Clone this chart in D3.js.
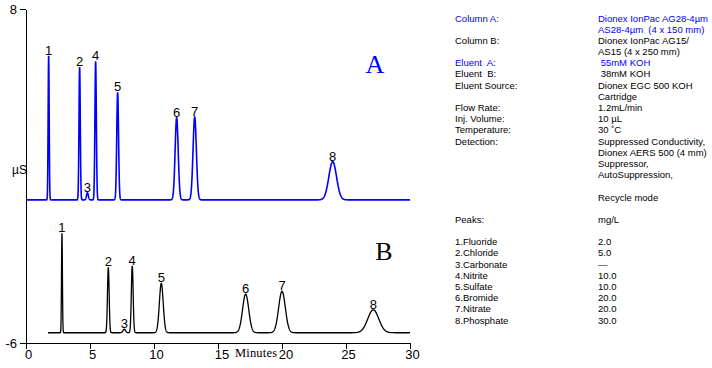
<!doctype html>
<html>
<head>
<meta charset="utf-8">
<script src="https://d3js.org/d3.v7.min.js"></script>
<style>
  body { margin: 0; background: #fff; }
  .axis path, .axis line { stroke: #000; shape-rendering: crispEdges; }
  .axis text { font-family: "Liberation Sans", Arial, sans-serif; font-size: 13px; fill: #000; }
</style>
</head>
<body>
<div id="chart"></div>
<script>
// peak tables: retention time (min), height (uS), width sigma (min)
var peakIds = ["1", "2", "3", "4", "5", "6", "7", "8"];

var timesA = [1.77, 4.19, 4.80, 5.44, 7.16, 11.77, 13.18, 23.96];
var heightsA = [6.04, 5.57, 0.30, 5.81, 4.51, 3.44, 3.47, 1.60];
var sigmaA = [0.04, 0.05, 0.07, 0.055, 0.07, 0.12, 0.13, 0.30];
var baselineA = 0.0;
var startA = 0;

var timesB = [2.81, 6.43, 7.68, 8.30, 10.57, 17.16, 20.00, 27.13];
var heightsB = [4.17, 2.74, 0.15, 2.80, 2.07, 1.62, 1.74, 0.96];
var sigmaB = [0.035, 0.065, 0.10, 0.07, 0.15, 0.24, 0.26, 0.43];
var baselineB = -5.57;
var startB = 1.72;

var xTicks = [0, 5, 10, 15, 20, 25, 30];
var yTicks = [8, -6];

// side panel lines: [label, value, highlighted]
var infoLines = [
  ["Column A:", "Dionex IonPac AG28-4\u00b5m", true],
  ["", "AS28-4\u00b5m  (4 x 150 mm)", true],
  ["Column B:", "Dionex IonPac AG15/", false],
  ["", "AS15 (4 x 250 mm)", false],
  ["Eluent  A:", " 55mM KOH", true],
  ["Eluent  B:", " 38mM KOH", false],
  ["Eluent Source:", "Dionex EGC 500 KOH", false],
  ["", "Cartridge", false],
  ["Flow Rate:", "1.2mL/min", false],
  ["Inj. Volume:", "10 \u00b5L", false],
  ["Temperature:", "30 \u02daC", false],
  ["Detection:", "Suppressed Conductivity,", false],
  ["", "Dionex AERS 500 (4 mm)", false],
  ["", "Suppressor,", false],
  ["", "AutoSuppression,", false],
  ["", "", false],
  ["", "Recycle mode", false],
  ["", "", false],
  ["Peaks:", "mg/L", false],
  ["", "", false],
  ["1.Fluoride", "2.0", false],
  ["2.Chloride", "5.0", false],
  ["3.Carbonate", "\u2014", false],
  ["4.Nitrite", "10.0", false],
  ["5.Sulfate", "10.0", false],
  ["6.Bromide", "20.0", false],
  ["7.Nitrate", "20.0", false],
  ["8.Phosphate", "30.0", false]
];

var width = 712, height = 368;
var blue = "#0000ff";

var svg = d3.select("#chart").append("svg")
  .attr("width", width)
  .attr("height", height);

var x = d3.scaleLinear().domain([0, 30]).range([26, 410]);
var y = d3.scaleLinear().domain([-6, 8]).range([343, 9]);

// build a trace from its peak table
function trace(times, heights, sigmas, base, start) {
  var pts = [];
  for (var t = start; t <= 30.0001; t += 0.01) {
    var v = base;
    for (var i = 0; i < times.length; i++) {
      var d = (t - times[i]) / sigmas[i];
      v += heights[i] * Math.exp(-0.5 * d * d);
    }
    pts.push([t, v]);
  }
  return pts;
}

var line = d3.line()
  .x(function(d) { return x(d[0]); })
  .y(function(d) { return y(d[1]); });

svg.append("path")
  .datum(trace(timesB, heightsB, sigmaB, baselineB, startB))
  .attr("d", line)
  .attr("fill", "none")
  .attr("stroke", "#000")
  .attr("stroke-width", 1.3);

svg.append("path")
  .datum(trace(timesA, heightsA, sigmaA, baselineA, startA))
  .attr("d", line)
  .attr("fill", "none")
  .attr("stroke", blue)
  .attr("stroke-width", 1.6);

// axes
svg.append("g")
  .attr("class", "axis")
  .attr("transform", "translate(0,343)")
  .call(d3.axisBottom(x).tickValues(xTicks).tickSize(6).tickSizeOuter(0).tickPadding(1)
    .tickFormat(function(d) { return String(d); }))
  .selectAll("text").attr("dx", function(d) { return (d == 15 || d == 20) ? 3.5 : 2; });

svg.append("g")
  .attr("class", "axis")
  .attr("transform", "translate(26,0)")
  .call(d3.axisLeft(y).tickValues(yTicks).tickSize(6).tickSizeOuter(0).tickPadding(3)
    .tickFormat(function(d) { return String(d); }));

svg.append("text")
  .attr("x", 235).attr("y", 357)
  .attr("textLength", 42)
  .style("font-family", "'Liberation Serif', 'Times New Roman', serif")
  .style("font-size", "12.5px")
  .text("Minutes");

svg.append("text")
  .attr("x", 27).attr("y", 174)
  .attr("text-anchor", "end")
  .style("font-family", "'Liberation Sans', Arial, sans-serif")
  .style("font-size", "12px")
  .text("\u00b5S");

// peak labels
function labels(times, heights, base, color) {
  svg.append("g").selectAll("text")
    .data(peakIds)
    .enter().append("text")
    .attr("x", function(d, i) { return x(times[i]); })
    .attr("y", function(d, i) { return y(base + heights[i]) - 1; })
    .attr("text-anchor", "middle")
    .style("font-family", "'Liberation Sans', Arial, sans-serif")
    .style("font-size", "13px")
    .style("fill", color)
    .text(function(d) { return d; });
}
labels(timesA, heightsA, baselineA, "#000");
labels(timesB, heightsB, baselineB, "#000");

svg.append("text")
  .attr("x", 375).attr("y", 73)
  .attr("text-anchor", "middle")
  .style("font-family", "'Liberation Serif', 'Times New Roman', serif")
  .style("font-size", "26px")
  .style("fill", blue)
  .text("A");

svg.append("text")
  .attr("x", 384).attr("y", 260)
  .attr("text-anchor", "middle")
  .style("font-family", "'Liberation Serif', 'Times New Roman', serif")
  .style("font-size", "26px")
  .style("fill", "#000")
  .text("B");

// conditions panel
var info = svg.append("g")
  .style("font-family", "'Liberation Sans', Arial, sans-serif")
  .style("font-size", "9.5px");

var rows = info.selectAll("g")
  .data(infoLines)
  .enter().append("g")
  .attr("transform", function(d, i) { return "translate(0," + (21.5 + i * 11.19) + ")"; })
  .style("fill", function(d) { return d[2] ? blue : "#000"; });

rows.append("text").attr("x", 455).attr("xml:space", "preserve").style("white-space", "pre")
  .text(function(d) { return d[0]; });
rows.append("text").attr("x", 598).attr("xml:space", "preserve").style("white-space", "pre")
  .text(function(d) { return d[1]; });
</script>
</body>
</html>
